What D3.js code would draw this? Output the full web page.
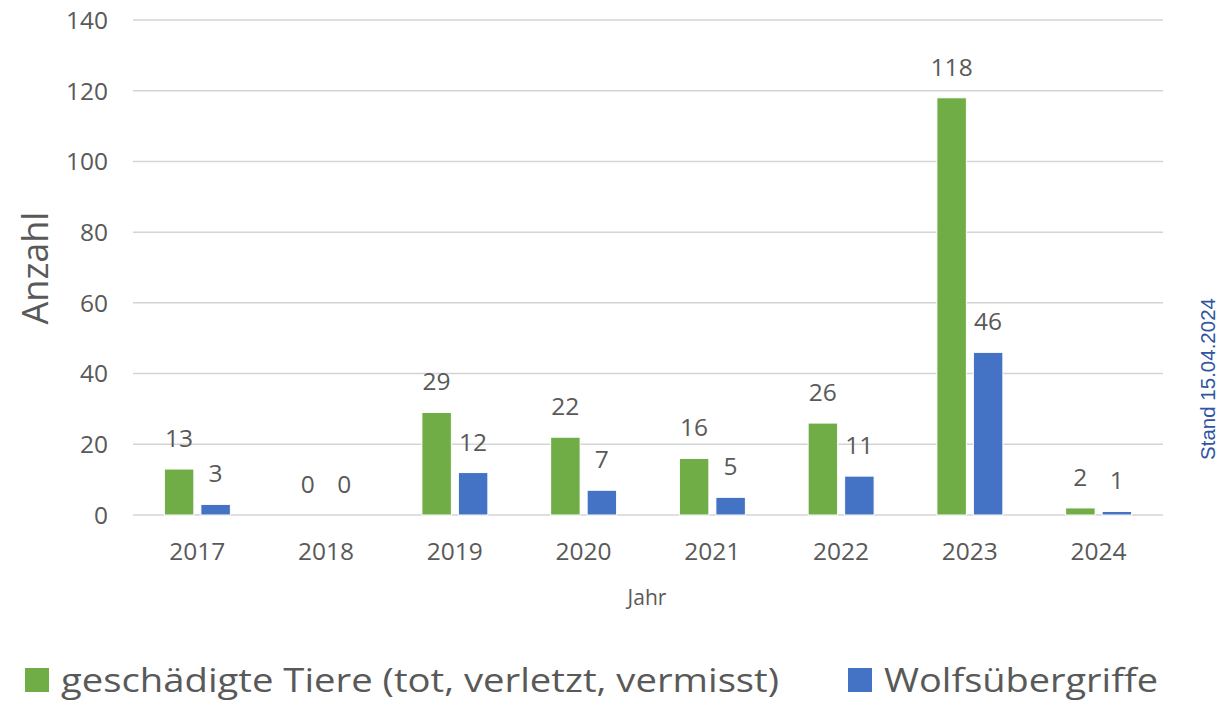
<!DOCTYPE html>
<html><head><meta charset="utf-8">
<script src="https://cdn.jsdelivr.net/npm/d3@7"></script>
<style>body{margin:0;background:#fff}svg{display:block}</style>
</head><body>
<svg id="c" width="1219" height="701"></svg>
<script>
const years = ["2017","2018","2019","2020","2021","2022","2023","2024"];
const seriesNames = ["geschädigte Tiere (tot, verletzt, vermisst)", "Wolfsübergriffe"];
const tiere = [13, 0, 29, 22, 16, 26, 118, 2];
const uebergriffe = [3, 0, 12, 7, 5, 11, 46, 1];
const colors = ["#70AD47", "#4472C4"];
const yTicks = [0, 20, 40, 60, 80, 100, 120, 140];
const yTitle = "Anzahl";
const xTitle = "Jahr";
const note = "Stand 15.04.2024";

const svg = d3.select("#c");
const font = "'Open Sans', sans-serif";
const txt = "#595959";
const x0 = d3.scaleBand().domain(years).range([133, 1163]).padding(0);
const x1 = d3.scaleBand().domain([0,1]).range([0, x0.bandwidth()]).paddingInner(0.192).paddingOuter(0.86);
const y = d3.scaleLinear().domain([0, 140]).range([515, 20]);

// gridlines
svg.append("g").selectAll("line").data(yTicks).join("line")
  .attr("x1", 133).attr("x2", 1163)
  .attr("y1", d => y(d)).attr("y2", d => y(d))
  .attr("stroke", "#d4d4d4").attr("stroke-width", 1.5);

// y tick labels
svg.append("g").selectAll("text").data(yTicks).join("text")
  .attr("x", 108).attr("y", d => y(d)).attr("dy", "0.36em")
  .attr("text-anchor", "end").attr("font-family", font).attr("font-size", 24.5)
  .attr("fill", txt).text(d => d);

const data = years.map((yr, i) => ({yr, vals: [tiere[i], uebergriffe[i]]}));
const g = svg.append("g").selectAll("g").data(data).join("g")
  .attr("transform", d => `translate(${x0(d.yr)},0)`);
g.selectAll("rect").data(d => d.vals.map((v, k) => ({v, k}))).join("rect")
  .attr("x", d => x1(d.k)).attr("width", x1.bandwidth())
  .attr("y", d => y(d.v)).attr("height", d => y(0) - y(d.v))
  .attr("fill", d => colors[d.k]).attr("stroke", "#fff").attr("stroke-width", 1);
g.selectAll("text").data(d => d.vals.map((v, k) => ({v, k}))).join("text")
  .attr("x", d => x1(d.k) + x1.bandwidth() / 2).attr("y", d => y(d.v) - 22)
  .attr("text-anchor", "middle").attr("font-family", font).attr("font-size", 24.5)
  .attr("fill", txt).text(d => d.v);

// x labels
svg.append("g").selectAll("text").data(years).join("text")
  .attr("x", d => x0(d) + x0.bandwidth() / 2).attr("y", 560)
  .attr("text-anchor", "middle").attr("font-family", font).attr("font-size", 24.5)
  .attr("fill", txt).text(d => d);

svg.append("text").attr("x", 647).attr("y", 605).attr("text-anchor", "middle")
  .attr("font-family", font).attr("font-size", 21).attr("fill", txt).text(xTitle);

svg.append("text").attr("transform", "translate(48,268) rotate(-90)").attr("text-anchor", "middle")
  .attr("font-family", font).attr("font-size", 36).attr("fill", txt).text(yTitle);

svg.append("text").attr("transform", "translate(1215,379) rotate(-90)").attr("text-anchor", "middle")
  .attr("font-family", "'Liberation Sans', Arial, sans-serif").attr("font-size", 20.5)
  .attr("fill", "#2F55A4").text(note);

// legend
const legX = [25, 848];
const legLen = [718, 274];
const leg = svg.append("g").selectAll("g").data(seriesNames).join("g")
  .attr("transform", (d, i) => `translate(${legX[i]},668)`);
leg.append("rect").attr("width", 24).attr("height", 24).attr("fill", (d, i) => colors[i]);
leg.append("text").attr("x", 36).attr("y", 24).attr("font-family", font).attr("font-size", 33)
  .attr("textLength", (d, i) => legLen[i]).attr("lengthAdjust", "spacingAndGlyphs")
  .attr("fill", txt).text(d => d);
</script>
</body></html>
